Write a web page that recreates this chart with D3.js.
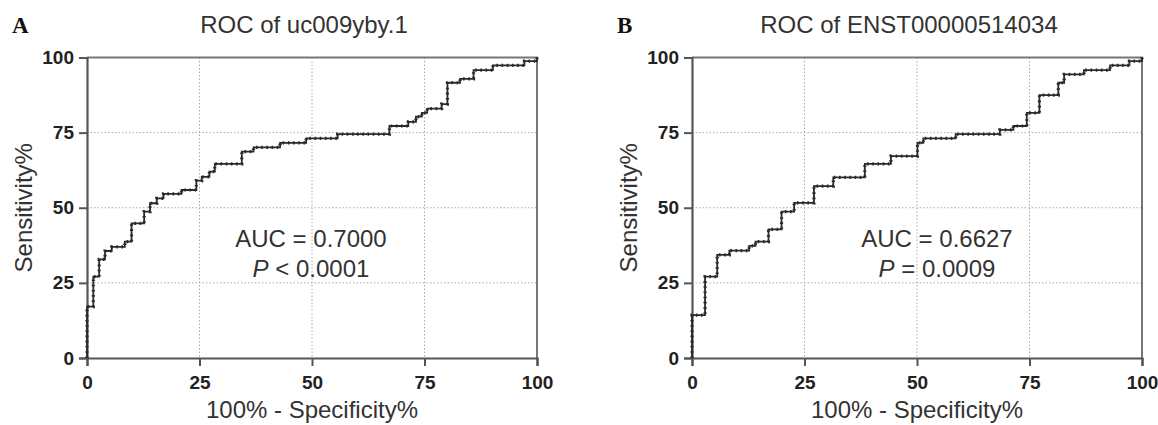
<!DOCTYPE html>
<html>
<head>
<meta charset="utf-8">
<script src="https://cdn.jsdelivr.net/npm/d3@7"></script>
<style>
  body { margin: 0; background: #fff; }
  svg text { font-family: "Liberation Sans", Arial, sans-serif; }
</style>
</head>
<body>
<div id="chart"></div>
<script>
// ---- data ----
var xTicks = [0, 25, 50, 75, 100];
var yTicks = [0, 25, 50, 75, 100];

var panelLetters = ["A", "B"];
var titles = ["ROC of uc009yby.1", "ROC of ENST00000514034"];
var aucLabels = ["AUC = 0.7000", "AUC = 0.6627"];
var pSigns = ["<", "="];
var pValues = ["0.0001", "0.0009"];

// corner points of the step curve (100% - specificity, sensitivity)
var rocA_x = [0, 0, 1.4, 2.7, 4.0, 5.5, 8.4, 9.9, 12.7, 14.0, 15.5, 17.0, 21.0, 24.3, 25.5, 27.2, 28.4, 34.4, 37.0, 42.9, 48.7, 55.7, 67.2, 71.4, 73.1, 74.4, 75.6, 78.8, 80.1, 82.9, 85.9, 90.2, 97.2, 100];
var rocA_y = [0, 17.1, 27.1, 32.8, 35.6, 37.0, 38.7, 44.8, 48.7, 51.5, 53.1, 54.6, 55.9, 59.0, 60.3, 62.0, 64.6, 68.7, 70.1, 71.6, 73.1, 74.5, 77.2, 78.6, 80.3, 81.6, 83.0, 84.5, 91.6, 92.9, 95.8, 97.4, 98.8, 100];

var rocB_x = [0, 0, 2.9, 5.6, 8.3, 12.7, 14.1, 17.0, 19.9, 22.7, 27.1, 31.4, 38.4, 44.2, 50.1, 51.4, 58.6, 68.4, 71.4, 74.4, 77.2, 81.4, 82.7, 87.1, 92.9, 97.2, 100];
var rocB_y = [0, 14.3, 27.1, 34.3, 35.7, 37.3, 38.7, 42.8, 48.7, 51.6, 57.2, 60.1, 64.6, 67.2, 71.6, 73.1, 74.5, 75.9, 77.2, 81.6, 87.5, 91.6, 94.4, 95.8, 97.4, 98.8, 100];

var W = 1158, H = 425;
var svg = d3.select("#chart").append("svg")
  .attr("width", W)
  .attr("height", H);

function drawPanel(i, offsetX, xs, ys, statsCx) {
  var left = 87 + offsetX, right = 537 + offsetX, top = 57.5, bottom = 358;

  var x = d3.scaleLinear().domain([0, 100]).range([left, right]);
  var y = d3.scaleLinear().domain([0, 100]).range([bottom, top]);

  var g = svg.append("g");

  // panel letter
  g.append("text")
    .attr("x", 12 + offsetX)
    .attr("y", 33)
    .style("font-family", "'Liberation Serif', 'Times New Roman', serif")
    .style("font-weight", "bold")
    .style("font-size", "23px")
    .attr("fill", "#111")
    .text(panelLetters[i]);

  // title
  g.append("text")
    .attr("x", 304 + offsetX)
    .attr("y", 33)
    .attr("text-anchor", "middle")
    .style("font-size", "24px")
    .attr("fill", "#333")
    .text(titles[i]);

  // grid
  g.append("g").selectAll("line")
    .data(xTicks.slice(1, -1))
    .enter().append("line")
    .attr("x1", function(d) { return x(d); })
    .attr("x2", function(d) { return x(d); })
    .attr("y1", top).attr("y2", bottom)
    .attr("stroke", "#aaa")
    .attr("stroke-width", 1)
    .attr("stroke-dasharray", "1.5,2");
  g.append("g").selectAll("line")
    .data(yTicks.slice(1, -1))
    .enter().append("line")
    .attr("y1", function(d) { return y(d); })
    .attr("y2", function(d) { return y(d); })
    .attr("x1", left).attr("x2", right)
    .attr("stroke", "#aaa")
    .attr("stroke-width", 1)
    .attr("stroke-dasharray", "1.5,2");

  // frame (top and right)
  g.append("path")
    .attr("d", "M" + left + "," + top + "H" + right + "V" + bottom)
    .attr("fill", "none")
    .attr("stroke", "#777")
    .attr("stroke-width", 2);

  // axes
  var xAxis = g.append("g")
    .attr("transform", "translate(0," + bottom + ")")
    .call(d3.axisBottom(x).tickValues(xTicks).tickSize(8).tickPadding(10));
  var yAxis = g.append("g")
    .attr("transform", "translate(" + left + ",0)")
    .call(d3.axisLeft(y).tickValues(yTicks).tickSize(8).tickPadding(5));

  [xAxis, yAxis].forEach(function(ax) {
    ax.select(".domain").attr("stroke", "#555").attr("stroke-width", 2.2);
    ax.selectAll(".tick line").attr("stroke", "#555").attr("stroke-width", 2);
    ax.selectAll(".tick text")
      .attr("fill", "#222")
      .style("font-family", "'Liberation Sans', Arial, sans-serif")
      .style("font-weight", "bold")
      .style("font-size", "19px");
  });

  // axis titles
  g.append("text")
    .attr("x", 312 + offsetX)
    .attr("y", 418)
    .attr("text-anchor", "middle")
    .style("font-size", "24px")
    .attr("fill", "#333")
    .text("100% - Specificity%");

  g.append("text")
    .attr("transform", "translate(" + (32 + offsetX) + "," + ((top + bottom) / 2) + ") rotate(-90)")
    .attr("text-anchor", "middle")
    .style("font-size", "24px")
    .attr("fill", "#333")
    .text("Sensitivity%");

  // ROC step curve
  var pts = xs.map(function(v, k) { return [v, ys[k]]; });
  var line = d3.line()
    .x(function(d) { return x(d[0]); })
    .y(function(d) { return y(d[1]); })
    .curve(d3.curveStepAfter);

  g.append("path")
    .datum(pts)
    .attr("fill", "none")
    .attr("stroke", "#2a2a2a")
    .attr("stroke-width", 1.8)
    .attr("d", line);
  // beaded look of the original plot symbols
  g.append("path")
    .datum(pts)
    .attr("fill", "none")
    .attr("stroke", "#2a2a2a")
    .attr("stroke-width", 3.2)
    .attr("stroke-dasharray", "1.6,3.6")
    .attr("d", line);

  // stats text
  g.append("text")
    .attr("x", statsCx)
    .attr("y", 247)
    .attr("text-anchor", "middle")
    .style("font-size", "24px")
    .attr("fill", "#333")
    .text(aucLabels[i]);

  var p = g.append("text")
    .attr("x", statsCx)
    .attr("y", 277)
    .attr("text-anchor", "middle")
    .style("font-size", "24px")
    .attr("fill", "#333");
  p.append("tspan").style("font-style", "italic").text("P");
  p.append("tspan").text(" " + pSigns[i] + " " + pValues[i]);
}

drawPanel(0, 0, rocA_x, rocA_y, 311);
drawPanel(1, 605, rocB_x, rocB_y, 937);
</script>
</body>
</html>
